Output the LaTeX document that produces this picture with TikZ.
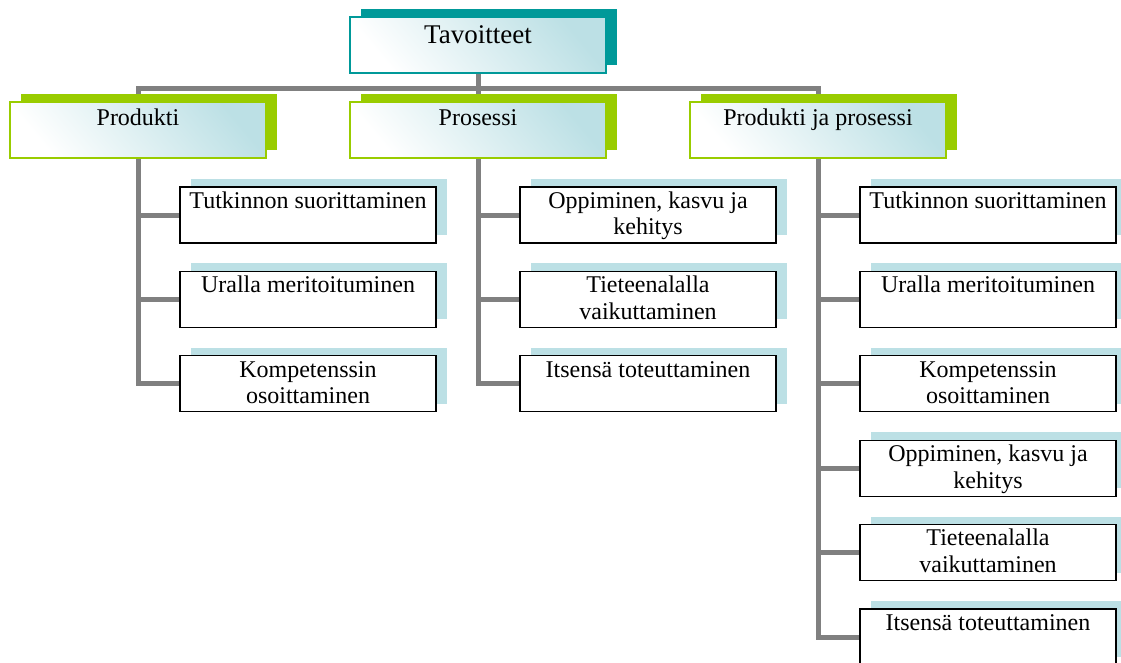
\documentclass[tikz,border=0pt]{standalone}
\usepackage{fontspec}
\setmainfont{Liberation Serif}
\usetikzlibrary{shadows,backgrounds}
\definecolor{teal1}{HTML}{009999}
\definecolor{green1}{HTML}{99CC00}
\definecolor{lblue}{HTML}{BCE0E5}
\definecolor{conngray}{HTML}{808080}
\tikzset{
  basebox/.style={rectangle, minimum width=256pt, minimum height=56pt, inner sep=0pt},
  shadedfront/.style={top color=lblue, bottom color=white, shading angle=-50},
  topbox/.style={basebox, draw=teal1, line width=1.6pt, shadedfront,
    general shadow={shadow xshift=11pt, shadow yshift=8pt, fill=teal1}},
  lonebox/.style={basebox, draw=green1, line width=1.4pt, shadedfront,
    general shadow={shadow xshift=11pt, shadow yshift=8pt, fill=green1}},
  childbox/.style={basebox, draw=black, line width=1.3pt, fill=white,
    general shadow={shadow xshift=11pt, shadow yshift=8pt, fill=lblue}},
  ttext/.style={anchor=base, inner sep=0pt, font=\fontsize{27}{32}\selectfont},
  ctext/.style={anchor=base, inner sep=0pt, align=center, font=\fontsize{24}{26.5}\selectfont},
  conn/.style={draw=conngray, line width=5pt, line join=miter}
}
\begin{document}
\begin{tikzpicture}[x=1pt,y=-1pt]
\useasboundingbox (0,0) rectangle (1121,662);
% top
\node[topbox] (top) at (478,45) {};
\node[ttext] (topt) at ([yshift=-27pt]top.north) {Tavoitteet};
% level 1
\node[lonebox] (p1) at (138,130) {};
\node[ctext] (p1t) at ([yshift=-24pt]p1.north) {Produkti};
\node[lonebox] (p2) at (478,130) {};
\node[ctext] (p2t) at ([yshift=-24pt]p2.north) {Prosessi};
\node[lonebox] (p3) at (818,130) {};
\node[ctext] (p3t) at ([yshift=-24pt]p3.north) {Produkti ja prosessi};
% left column
\node[childbox] (a1) at (308,215) {};
\node[ctext] (a1t) at ([yshift=-22pt]a1.north) {Tutkinnon suorittaminen};
\node[childbox] (a2) at (308,299.4) {};
\node[ctext] (a2t) at ([yshift=-22pt]a2.north) {Uralla meritoituminen};
\node[childbox] (a3) at (308,383.8) {};
\node[ctext] (a3t) at ([yshift=-48.5pt]a3.north) {Kompetenssin\\osoittaminen};
% middle column
\node[childbox] (b1) at (648,215) {};
\node[ctext] (b1t) at ([yshift=-48.5pt]b1.north) {Oppiminen, kasvu ja\\kehitys};
\node[childbox] (b2) at (648,299.4) {};
\node[ctext] (b2t) at ([yshift=-48.5pt]b2.north) {Tieteenalalla\\vaikuttaminen};
\node[childbox] (b3) at (648,383.8) {};
\node[ctext] (b3t) at ([yshift=-22pt]b3.north) {Itsensä toteuttaminen};
% right column
\node[childbox] (c1) at (988,215) {};
\node[ctext] (c1t) at ([yshift=-22pt]c1.north) {Tutkinnon suorittaminen};
\node[childbox] (c2) at (988,299.4) {};
\node[ctext] (c2t) at ([yshift=-22pt]c2.north) {Uralla meritoituminen};
\node[childbox] (c3) at (988,383.8) {};
\node[ctext] (c3t) at ([yshift=-48.5pt]c3.north) {Kompetenssin\\osoittaminen};
\node[childbox] (c4) at (988,468.2) {};
\node[ctext] (c4t) at ([yshift=-48.5pt]c4.north) {Oppiminen, kasvu ja\\kehitys};
\node[childbox] (c5) at (988,552.6) {};
\node[ctext] (c5t) at ([yshift=-48.5pt]c5.north) {Tieteenalalla\\vaikuttaminen};
\node[childbox] (c6) at (988,637) {};
\node[ctext] (c6t) at ([yshift=-22pt]c6.north) {Itsensä toteuttaminen};
% connectors
\begin{scope}[on background layer]
\coordinate (bus) at (478,88);
\draw[conn] (top.south) -- (bus);
\draw[conn] (bus) -| (p1.north);
\draw[conn] (bus) -- (p2.north);
\draw[conn] (bus) -| (p3.north);
\draw[conn] (p1.south) |- (a1.west);
\draw[conn] (p1.south) |- (a2.west);
\draw[conn] (p1.south) |- (a3.west);
\draw[conn] (p2.south) |- (b1.west);
\draw[conn] (p2.south) |- (b2.west);
\draw[conn] (p2.south) |- (b3.west);
\draw[conn] (p3.south) |- (c1.west);
\draw[conn] (p3.south) |- (c2.west);
\draw[conn] (p3.south) |- (c3.west);
\draw[conn] (p3.south) |- (c4.west);
\draw[conn] (p3.south) |- (c5.west);
\draw[conn] (p3.south) |- (c6.west);
\end{scope}
\end{tikzpicture}
\end{document}
